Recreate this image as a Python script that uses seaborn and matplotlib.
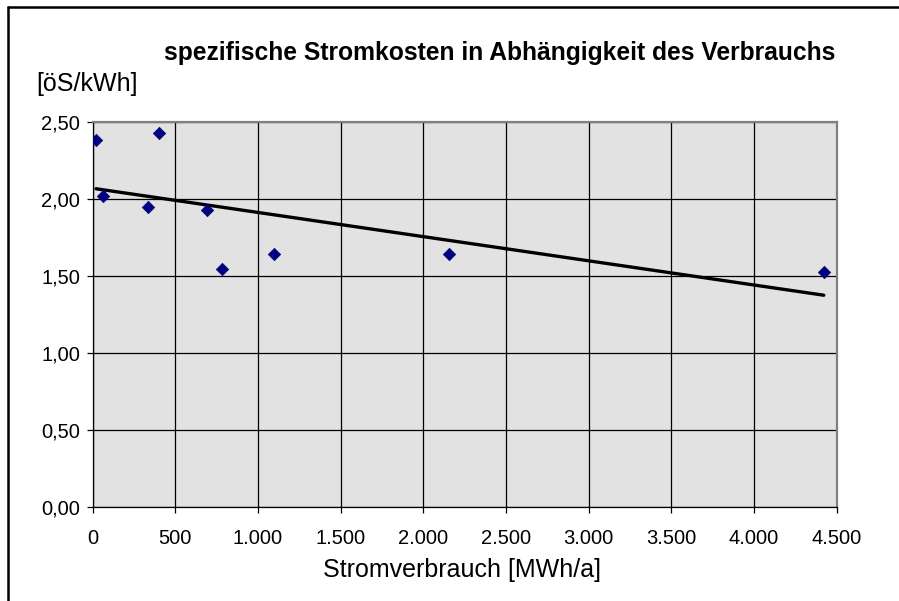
import matplotlib
matplotlib.use("Agg")
import matplotlib.pyplot as plt
from matplotlib.lines import Line2D
from matplotlib.ticker import FuncFormatter
import seaborn as sns
import pandas as pd
import numpy as np

# Stromverbrauch [MWh/a] vs. spezifische Stromkosten [öS/kWh]
verbrauch = [21, 65, 336, 402, 690, 783, 1095, 2153, 4422]
kosten = [2.38, 2.02, 1.95, 2.43, 1.93, 1.545, 1.64, 1.64, 1.524]
x_ticks = [0, 500, 1000, 1500, 2000, 2500, 3000, 3500, 4000, 4500]
y_ticks = [0.0, 0.5, 1.0, 1.5, 2.0, 2.5]

df = pd.DataFrame({"verbrauch": verbrauch, "kosten": kosten})

sns.set_style("white")
plt.rcParams['font.family'] = ['Liberation Sans', 'DejaVu Sans']
plt.rcParams['text.color'] = 'black'
plt.rcParams['xtick.color'] = 'black'
plt.rcParams['ytick.color'] = 'black'

fig = plt.figure(figsize=(8.99, 6.01), dpi=100)
ax = fig.add_axes([92.5 / 899, 1 - 506.7 / 601, (836.7 - 92.5) / 899, (506.7 - 122) / 601])
ax.set_facecolor("#e2e2e2")

sns.regplot(data=df, x="verbrauch", y="kosten", scatter=False, ci=None,
            color="black", line_kws={"linewidth": 2.4, "solid_capstyle": "round"}, ax=ax)
sns.scatterplot(data=df, x="verbrauch", y="kosten", marker="D", s=40,
                color="#000080", edgecolor="#000080", linewidth=0.5, ax=ax, zorder=4)

ax.set_xlim(0, 4500)
ax.set_ylim(0, 2.5)
ax.set_xticks(x_ticks)
ax.set_yticks(y_ticks)
ax.xaxis.set_major_formatter(FuncFormatter(lambda v, p: f"{int(v):,}".replace(",", ".")))
ax.yaxis.set_major_formatter(FuncFormatter(lambda v, p: f"{v:.2f}".replace(".", ",")))
ax.grid(True, color="black", linewidth=0.9)
ax.set_axisbelow(True)
ax.tick_params(axis="both", direction="out", length=4, width=0.9, color="black",
               labelcolor="black", labelsize=14.5, left=True, bottom=True)
ax.tick_params(axis="y", pad=5)
ax.tick_params(axis="x", pad=12)
ax.set_xlabel("")
ax.set_ylabel("")

for side in ["left", "bottom"]:
    ax.spines[side].set_color("black")
    ax.spines[side].set_linewidth(0.9)
for side in ["top", "right"]:
    ax.spines[side].set_visible(True)
    ax.spines[side].set_color("#808080")
    ax.spines[side].set_linewidth(1.6)

fig.text(500 / 899, 1 - 53 / 601, "spezifische Stromkosten in Abhängigkeit des Verbrauchs",
         ha="center", va="center", fontsize=17.7, fontweight="bold", color="black")
fig.text(36 / 899, 1 - 84 / 601, "[öS/kWh]", ha="left", va="center", fontsize=18, color="black")
fig.text(462.5 / 899, 1 - 570 / 601, "Stromverbrauch [MWh/a]", ha="center", va="center",
         fontsize=18, color="black")

# outer frame (top and left edges only)
fig.add_artist(Line2D([8 / 899, 1], [1 - 7 / 601, 1 - 7 / 601], transform=fig.transFigure,
                      color="black", linewidth=1.8))
fig.add_artist(Line2D([8 / 899, 8 / 899], [0, 1 - 7 / 601], transform=fig.transFigure,
                      color="black", linewidth=1.8))

fig.savefig("out.png", dpi=100)
